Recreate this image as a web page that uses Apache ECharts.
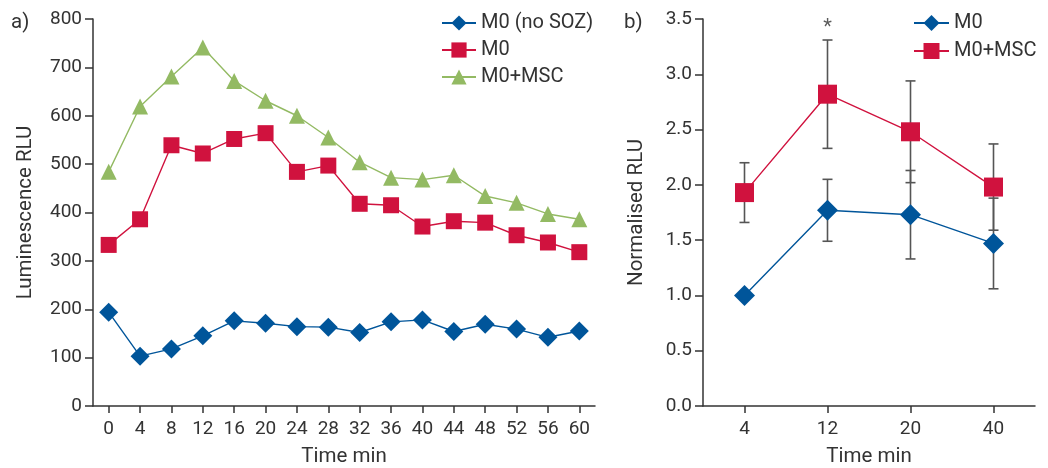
<!DOCTYPE html>
<html>
<head>
<meta charset="utf-8">
<script src="https://cdn.jsdelivr.net/npm/echarts@6/dist/echarts.min.js"></script>
<style>
html,body{margin:0;padding:0;background:#fff;}
#c{width:1048px;height:468px;}
</style>
</head>
<body>
<div id="c"></div>
<script>
// ---- Panel a ----
var timeA = ['0','4','8','12','16','20','24','28','32','36','40','44','48','52','56','60'];
var m0NoSoz = [194,103,118,145,176,171,164,163,152,174,178,154,169,159,142,155];
var m0A = [333,386,539,522,552,564,484,497,418,415,371,382,379,353,338,318];
var m0MscA = [484,619,681,741,672,631,600,555,504,472,468,477,434,420,397,386];

// ---- Panel b ----
var timeB = ['4','12','20','40'];
var m0B = [1.00,1.77,1.73,1.47];
var m0BErr = [0,0.28,0.40,0.41];
var m0MscB = [1.93,2.82,2.48,1.98];
var m0MscBErr = [0.27,0.49,0.46,0.39];
var signif = ['','*','',''];

var BLUE = '#00559a', RED = '#d0123e', GREEN = '#93ba63', AX = '#333333', TXT = '#333333';
var FONT = 'Roboto';
var TICKFS = 19, NAMEFS = 20.5, LEGFS = 20;

function errData(vals, errs){
  return vals.map(function(v,i){ return [i, v - errs[i], v + errs[i]]; });
}
function errRender(params, api){
  var x = api.value(0), lo = api.value(1), hi = api.value(2);
  if (hi - lo < 1e-9) return null;
  var top = api.coord([x, hi]), bot = api.coord([x, lo]);
  var w = 5;
  var st = {stroke:'#555555', lineWidth:1.6};
  return {type:'group', children:[
    {type:'line', shape:{x1:top[0],y1:top[1],x2:bot[0],y2:bot[1]}, style:st},
    {type:'line', shape:{x1:top[0]-w,y1:top[1],x2:top[0]+w,y2:top[1]}, style:st},
    {type:'line', shape:{x1:bot[0]-w,y1:bot[1],x2:bot[0]+w,y2:bot[1]}, style:st}
  ]};
}

function xAx(idx, data){
  return {type:'category', gridIndex:idx, data:data, boundaryGap:true,
    axisLine:{show:true, lineStyle:{color:AX, width:1.5}},
    axisTick:{show:true, alignWithLabel:true, length:7, lineStyle:{color:AX, width:1.5}},
    splitLine:{show:false},
    axisLabel:{color:TXT, fontSize:TICKFS, fontFamily:FONT, margin:14, interval:0},
    name:'Time min', nameLocation:'middle', nameGap:40,
    nameTextStyle:{color:TXT, fontSize:NAMEFS, fontFamily:FONT}};
}
function yAx(idx, min, max, step, name, gap, fmt){
  return {type:'value', gridIndex:idx, min:min, max:max, interval:step,
    axisLine:{show:true, lineStyle:{color:AX, width:1.5}},
    axisTick:{show:true, length:8, lineStyle:{color:AX, width:1.5}},
    splitLine:{show:false},
    axisLabel:{color:TXT, fontSize:TICKFS, fontFamily:FONT, margin:11, formatter:fmt},
    name:name, nameLocation:'middle', nameGap:gap,
    nameTextStyle:{color:TXT, fontSize:NAMEFS, fontFamily:FONT}};
}

var chart = echarts.init(document.getElementById('c'), null, {renderer:'canvas'});
chart.setOption({
  animation:false,
  backgroundColor:'#fff',
  title:[
    {text:'a)', left:6, top:7, textStyle:{fontSize:NAMEFS, fontWeight:'normal', color:TXT, fontFamily:FONT}},
    {text:'b)', left:619, top:7, textStyle:{fontSize:NAMEFS, fontWeight:'normal', color:TXT, fontFamily:FONT}}
  ],
  legend:[
    {orient:'vertical', left:436, top:8, itemWidth:34, itemHeight:19, itemGap:7,
     textStyle:{fontSize:LEGFS, color:TXT, fontFamily:FONT},
     data:['M0 (no SOZ)','M0','M0+MSC']},
    {orient:'vertical', left:908, top:8, itemWidth:35, itemHeight:20, itemGap:8,
     textStyle:{fontSize:LEGFS, color:TXT, fontFamily:FONT},
     data:['M0 ','M0+MSC ']}
  ],
  grid:[
    {left:93, top:19, width:502, height:387, outerBoundsMode:'none', containLabel:false},
    {left:703, top:19, width:332, height:387, outerBoundsMode:'none', containLabel:false}
  ],
  xAxis:[ xAx(0, timeA), xAx(1, timeB) ],
  yAxis:[
    yAx(0, 0, 800, 100, 'Luminescence RLU', 57, null),
    yAx(1, 0, 3.5, 0.5, 'Normalised RLU', 56, function(v){ return v.toFixed(1); })
  ],
  series:[
    {name:'M0 (no SOZ)', type:'line', xAxisIndex:0, yAxisIndex:0, data:m0NoSoz,
     symbol:'diamond', symbolSize:19, color:BLUE, lineStyle:{color:BLUE, width:1.4}, itemStyle:{color:BLUE}},
    {name:'M0', type:'line', xAxisIndex:0, yAxisIndex:0, data:m0A,
     symbol:'rect', symbolSize:16, color:RED, lineStyle:{color:RED, width:1.4}, itemStyle:{color:RED}},
    {name:'M0+MSC', type:'line', xAxisIndex:0, yAxisIndex:0, data:m0MscA,
     symbol:'triangle', symbolSize:16, color:GREEN, lineStyle:{color:GREEN, width:1.4}, itemStyle:{color:GREEN}},

    {type:'custom', xAxisIndex:1, yAxisIndex:1, data:errData(m0MscB, m0MscBErr), renderItem:errRender, z:1, silent:true, encode:{x:0, y:[1,2]}},
    {type:'custom', xAxisIndex:1, yAxisIndex:1, data:errData(m0B, m0BErr), renderItem:errRender, z:1, silent:true, encode:{x:0, y:[1,2]}},
    {name:'M0 ', type:'line', xAxisIndex:1, yAxisIndex:1, data:m0B, z:3,
     symbol:'diamond', symbolSize:21, color:BLUE, lineStyle:{color:BLUE, width:1.4}, itemStyle:{color:BLUE}},
    {name:'M0+MSC ', type:'line', xAxisIndex:1, yAxisIndex:1, data:m0MscB, z:3,
     symbol:'rect', symbolSize:19, color:RED, lineStyle:{color:RED, width:1.4}, itemStyle:{color:RED}},
    {type:'scatter', xAxisIndex:1, yAxisIndex:1, symbolSize:0, silent:true,
     data:m0MscB.map(function(v,i){ return [i, v + m0MscBErr[i]]; }),
     label:{show:true, position:'top', distance:2, color:TXT, fontSize:20, fontFamily:FONT,
            formatter:function(p){ return signif[p.dataIndex]; }}}
  ]
});
</script>
</body>
</html>
